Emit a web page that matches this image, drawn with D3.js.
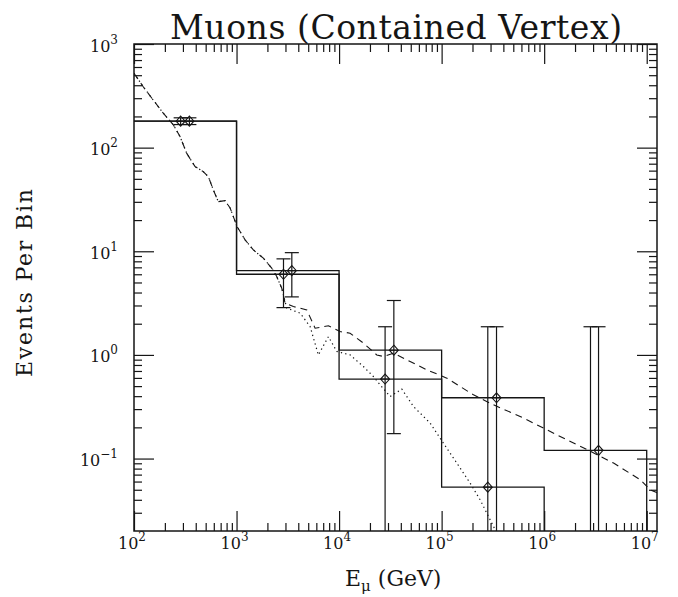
<!DOCTYPE html>
<html><head><meta charset="utf-8">
<script src="https://cdn.jsdelivr.net/npm/d3@7"></script>
<style>
body{margin:0;background:#fff}
svg{display:block}
text{font-family:"DejaVu Serif",serif;fill:#151515}
</style>
</head><body>
<svg id="c" width="678" height="597"></svg>
<script>
// ---------------- data ----------------
const binEdges   = [1e2, 1e3, 1e4, 1e5, 1e6, 1e7];
const histUpper  = [180, 6.5, 1.11, 0.386, 0.12];
const histLower  = [180, 6.0, 0.585, 0.053, 0];

const ptsUpperE  = [347, 3460, 34200, 343000, 3390000];
const ptsUpperN  = [180, 6.5, 1.11, 0.386, 0.12];
const ptsUpperHi = [194, 9.7, 3.35, 1.87, 1.87];
const ptsUpperLo = [167, 3.63, 0.174, 0, 0];

const ptsLowerE  = [285, 2870, 28100, 282000, 2830000];
const ptsLowerN  = [180, 6.0, 0.585, 0.053, 0];
const ptsLowerHi = [194, 8.45, 1.87, 1.87, 1.87];
const ptsLowerLo = [167, 2.86, 0, 0, 0];

// common part of both curves (E, events)
const curveShared = [[100,522],[123,387],[154,288],[193,215],[242,166],[281,128],[327,88],
  [394,65.6],[474,58.7],[531,52.5],[594,39.1],[664,30.1],[772,30.8],[865,26.2],[1012,17.3],
  [1211,12.9],[1459,10.3],[1825,8.58],[2203,6.87],[2466,5.70],[2760,4.40]];
const dashedTail = [[2973,3.16],[3582,2.93],[4840,2.72],[5836,1.81],[7870,1.91],[10230,1.68],
  [12800,1.62],[17260,1.30],[23330,1.00],[27060,0.966],[33880,1.04],[49300,0.863],[71800,0.718],
  [112500,0.597],[204400,0.412],[320000,0.330],[583000,0.255],[984000,0.197],[1.66e6,0.152],
  [2.61e6,0.122],[4.75e6,0.0905],[8.64e6,0.0625],[1.08e7,0.050],[1.28e7,0.0465]];
const dottedTail = [[3090,2.83],[4170,2.53],[5215,1.88],[6280,1.00],[7870,1.50],[9500,1.08],
  [12800,1.00],[17260,0.773],[21600,0.619],[25100,0.515],[31450,0.397],[40900,0.468],
  [53100,0.318],[77200,0.22],[104000,0.141],[140700,0.0905],[189700,0.058],[237500,0.040],
  [297000,0.0257],[332500,0.0206],[370000,0.016]];

const xTickExps = [2,3,4,5,6,7];
const yTickExps = [-1,0,1,2,3];
const titleText = "Muons (Contained Vertex)";
const yLabelText = "Events Per Bin";

// ---------------- layout ----------------
const L = 134, R = 657, T = 44, B = 531;
const svg = d3.select("#c");
const x = d3.scaleLog().domain([1e2, 1.26e7]).range([L, R]);
const y = d3.scaleLog().domain([0.02, 1000]).range([B, T]);
const ink = "#151515";

function minorTicks(scale) {
  const [a, b] = scale.domain();
  const out = [];
  for (let e = Math.floor(Math.log10(a)); e <= Math.ceil(Math.log10(b)); e++)
    for (let m = 2; m <= 9; m++) { const v = m * Math.pow(10, e); if (v > a && v < b) out.push(v); }
  return out;
}
const xMaj = xTickExps.map(e => Math.pow(10, e));
const yMaj = yTickExps.map(e => Math.pow(10, e));
const xMin = minorTicks(x), yMin = minorTicks(y);

function drawAxis(gen, tx, ty) {
  const g = svg.append("g").attr("transform", `translate(${tx},${ty})`).call(gen);
  g.select(".domain").remove();
  g.selectAll("line").attr("stroke", ink).attr("stroke-width", 1.2);
  g.selectAll("text").remove();
}
[[xMaj, 20], [xMin, 8]].forEach(([vals, len]) => {
  drawAxis(d3.axisBottom(x).tickValues(vals).tickSize(-len).tickFormat(""), 0, B);
  drawAxis(d3.axisTop(x).tickValues(vals).tickSize(-len).tickFormat(""), 0, T);
});
[[yMaj, 20], [yMin, 8]].forEach(([vals, len]) => {
  drawAxis(d3.axisLeft(y).tickValues(vals).tickSize(-len).tickFormat(""), L, 0);
  drawAxis(d3.axisRight(y).tickValues(vals).tickSize(-len).tickFormat(""), R, 0);
});

// clip
svg.append("clipPath").attr("id", "pc").append("rect")
  .attr("x", L).attr("y", T).attr("width", R - L).attr("height", B - T);
const plot = svg.append("g").attr("clip-path", "url(#pc)");

const yv = v => v > 0 ? y(v) : B + 10;

// histograms
function histPath(vals) {
  let p = `M${x(binEdges[0])},${yv(vals[0])}`;
  vals.forEach((v, i) => {
    p += `V${yv(v)}H${x(binEdges[i + 1])}`;
  });
  p += `V${B + 10}`;
  return p;
}
[histUpper, histLower].forEach(h => {
  plot.append("path").attr("d", histPath(h)).attr("fill", "none")
    .attr("stroke", ink).attr("stroke-width", 1.3);
});

// curves
const line = d3.line().x(d => x(d[0])).y(d => y(d[1]));
plot.append("path").datum(curveShared.concat(dashedTail)).attr("d", line)
  .attr("fill", "none").attr("stroke", ink).attr("stroke-width", 1.1).attr("stroke-dasharray", "7,5");
plot.append("path").datum(curveShared.concat(dottedTail)).attr("d", line)
  .attr("fill", "none").attr("stroke", ink).attr("stroke-width", 1.2).attr("stroke-dasharray", "1.3,3.2");

// points with error bars
function drawPoints(E, N, Hi, Lo) {
  E.forEach((e, i) => {
    const px = x(e);
    const yh = yv(Hi[i]), yl = yv(Lo[i]);
    plot.append("line").attr("x1", px).attr("x2", px).attr("y1", yh).attr("y2", yl)
      .attr("stroke", ink).attr("stroke-width", 1.2);
    [yh, yl].forEach(yy => {
      plot.append("line").attr("x1", px - 7).attr("x2", px + 7).attr("y1", yy).attr("y2", yy)
        .attr("stroke", ink).attr("stroke-width", 1.2);
    });
    if (N[i] > 0) {
      const py = y(N[i]);
      plot.append("path")
        .attr("d", `M${px},${py - 5}L${px + 4.5},${py}L${px},${py + 5}L${px - 4.5},${py}Z M${px - 4.5},${py}H${px + 4.5}`)
        .attr("fill", "none").attr("stroke", ink).attr("stroke-width", 1.1);
    }
  });
}
drawPoints(ptsLowerE, ptsLowerN, ptsLowerHi, ptsLowerLo);
drawPoints(ptsUpperE, ptsUpperN, ptsUpperHi, ptsUpperLo);

// frame
svg.append("rect").attr("x", L).attr("y", T).attr("width", R - L).attr("height", B - T)
  .attr("fill", "none").attr("stroke", ink).attr("stroke-width", 1.5);

// tick labels
const supStr = e => e < 0 ? "\u2212" + Math.abs(e) : String(e);
xTickExps.forEach(e => {
  const t = svg.append("text").attr("x", x(Math.pow(10, e)) - 2).attr("y", 549)
    .attr("text-anchor", "middle").attr("font-size", 16);
  t.append("tspan").text("10");
  t.append("tspan").attr("font-size", 12).attr("dy", -8).text(supStr(e));
});
yTickExps.forEach(e => {
  const t = svg.append("text").attr("x", 118).attr("y", y(Math.pow(10, e)) + 7.5)
    .attr("text-anchor", "end").attr("font-size", 16);
  t.append("tspan").text("10");
  t.append("tspan").attr("font-size", 12).attr("dy", -8).text(supStr(e));
});

// title
svg.append("text").attr("x", 396).attr("y", 38.5).attr("text-anchor", "middle")
  .attr("font-size", 33).attr("textLength", 452).attr("lengthAdjust", "spacing").text(titleText);

// y label
svg.append("text").attr("transform", "translate(32,283) rotate(-90)")
  .attr("text-anchor", "middle").attr("font-size", 22)
  .attr("textLength", 188).attr("lengthAdjust", "spacing").text(yLabelText);

// x label
const xl = svg.append("text").attr("x", 345).attr("y", 586).attr("font-size", 22);
xl.append("tspan").text("E");
xl.append("tspan").attr("font-size", 15).attr("dy", 5).text("\u03bc");
xl.append("tspan").attr("dy", -5).text(" (GeV)");
</script>
</body></html>
